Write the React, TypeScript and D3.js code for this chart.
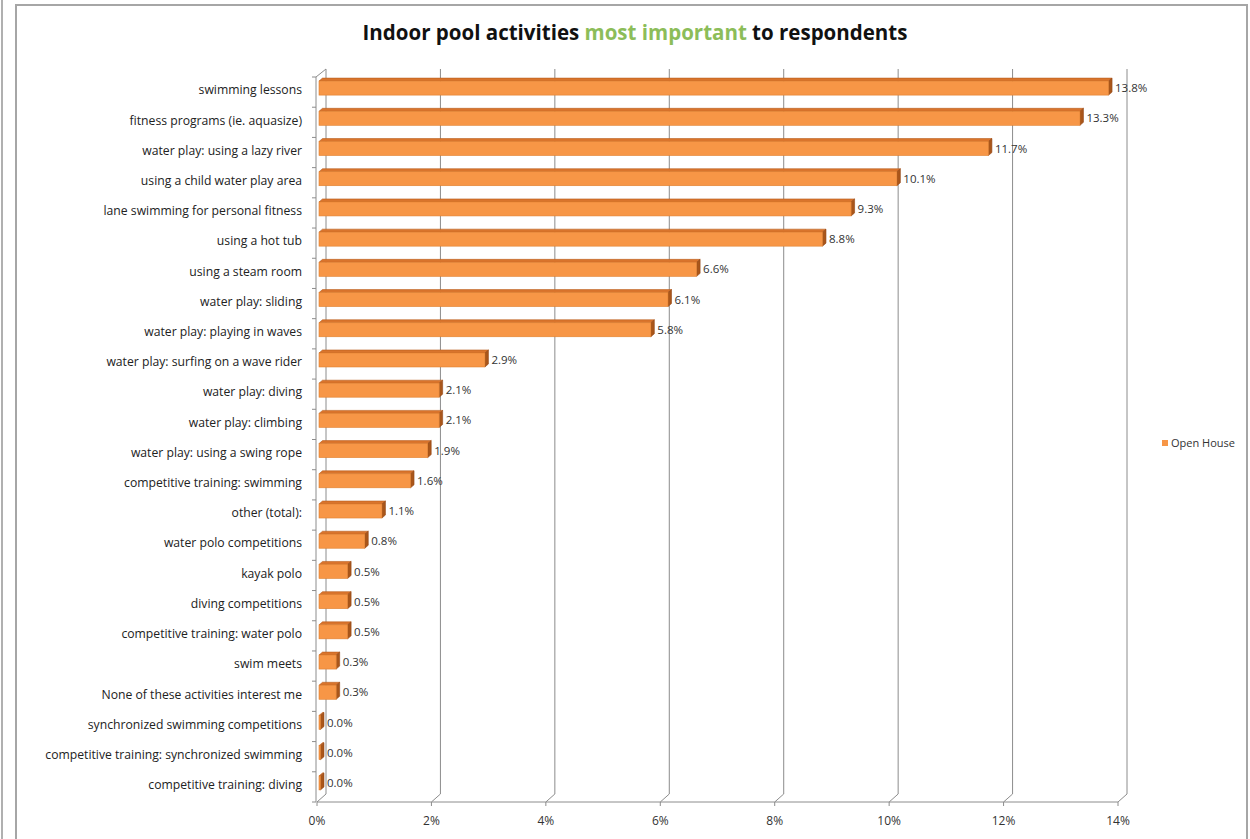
import React from "react";
import * as d3 from "d3";

const categories = [
  "swimming lessons",
  "fitness programs (ie. aquasize)",
  "water play: using a lazy river",
  "using a child water play area",
  "lane swimming for personal fitness",
  "using a hot tub",
  "using a steam room",
  "water play: sliding",
  "water play: playing in waves",
  "water play: surfing on a wave rider",
  "water play: diving",
  "water play: climbing",
  "water play: using a swing rope",
  "competitive training: swimming",
  "other (total):",
  "water polo competitions",
  "kayak polo",
  "diving competitions",
  "competitive training: water polo",
  "swim meets",
  "None of these activities interest me",
  "synchronized swimming competitions",
  "competitive training: synchronized swimming",
  "competitive training: diving",
];

const values = [
  13.8, 13.3, 11.7, 10.1, 9.3, 8.8, 6.6, 6.1, 5.8, 2.9, 2.1, 2.1, 1.9, 1.6, 1.1,
  0.8, 0.5, 0.5, 0.5, 0.3, 0.3, 0.0, 0.0, 0.0,
];

const xTicks = [0, 2, 4, 6, 8, 10, 12, 14];
const seriesName = "Open House";

export default function App() {
  const W = 1250;
  const H = 839;
  const font = "'Open Sans', 'Liberation Sans', Arial, sans-serif";
  const x = d3.scaleLinear().domain([0, 14]).range([317, 1118]);
  const y = d3.scaleBand<string>().domain(categories).range([77, 802]);
  const dx = 9;
  const dy = -8;
  const floorY = 802;
  const topY = 77;
  const grid = "#8c8c8c";

  return (
    <svg
      width={W}
      height={H}
      style={{ position: "absolute", left: 0, top: 0, background: "#fff" }}
    >
      {/* outer frames */}
      <line x1={2} y1={0} x2={2} y2={H} stroke="#b0b0b0" strokeWidth={2} />
      <rect x={16} y={5} width={1231} height={H} fill="#fff" stroke="#a6a6a6" strokeWidth={2} />

      {/* title */}
      <text
        x={635}
        y={40}
        textAnchor="middle"
        fontFamily={font}
        fontWeight="bold"
        fontSize={20.5}
        fill="#111"
      >
        Indoor pool activities{" "}
        <tspan fill="#8cbd59">most important</tspan> to respondents
      </text>

      {/* back wall gridlines + floor */}
      {xTicks.map((t) => {
        const fx = x(t);
        return (
          <g key={t}>
            <polyline
              points={`${fx + dx},${topY + dy} ${fx + dx},${floorY + dy} ${fx},${floorY}`}
              fill="none"
              stroke={grid}
              strokeWidth={1}
            />
            <line x1={fx} y1={floorY} x2={fx} y2={floorY + 4} stroke={grid} />
            <text
              x={fx}
              y={825}
              textAnchor="middle"
              fontFamily={font}
              fontSize={12}
              fill="#333"
            >
              {t}%
            </text>
          </g>
        );
      })}
      {/* floor front edge */}
      <line x1={x(0)} y1={floorY} x2={x(14)} y2={floorY} stroke={grid} />
      {/* left wall front edge */}
      <polyline
        points={`${x(0) + dx},${topY + dy} ${x(0) - 1},${topY} ${x(0) - 1},${floorY}`}
        fill="none"
        stroke={grid}
      />
      {/* left ticks */}
      {categories.map((c, i) => (
        <line
          key={"tk" + i}
          x1={x(0) - 5}
          x2={x(0) - 1}
          y1={y(c) as number}
          y2={y(c) as number}
          stroke={grid}
        />
      ))}
      <line x1={x(0) - 5} x2={x(0) - 1} y1={floorY} y2={floorY} stroke={grid} />

      {/* bars */}
      {categories.map((c, i) => {
        const v = values[i];
        const cy = (y(c) as number) + y.bandwidth() / 2;
        const x0 = x(0) + 2;
        const x1 = Math.max(x(v) + 2, x0 + 1.5);
        const top = cy - 11;
        const h = 14;
        const ox = 3.5;
        const oy = -3;
        return (
          <g key={c}>
            <polygon
              points={`${x0},${top} ${x0 + ox},${top + oy} ${x1 + ox},${top + oy} ${x1},${top}`}
              fill="#d9742c"
              stroke="#b85e1e"
              strokeWidth={0.6}
            />
            <polygon
              points={`${x1},${top} ${x1 + ox},${top + oy} ${x1 + ox},${top + oy + h} ${x1},${top + h}`}
              fill="#a9561a"
              stroke="#94481a"
              strokeWidth={0.6}
            />
            <rect
              x={x0}
              y={top}
              width={x1 - x0}
              height={h}
              fill="#f79646"
              stroke="#e0802f"
              strokeWidth={0.6}
            />
            <text
              x={x1 + ox + 3}
              y={cy - 3}
              dominantBaseline="middle"
              fontFamily={font}
              fontSize={11.5}
              fill="#333"
            >
              {v.toFixed(1)}%
            </text>
            <text
              x={302}
              y={cy - 1}
              textAnchor="end"
              dominantBaseline="middle"
              fontFamily={font}
              fontSize={12.2}
              fill="#222"
            >
              {c}
            </text>
          </g>
        );
      })}

      {/* legend */}
      <rect x={1162} y={440} width={6} height={6} fill="#f79646" />
      <text
        x={1171}
        y={444}
        dominantBaseline="middle"
        fontFamily={font}
        fontSize={11}
        fill="#333"
      >
        {seriesName}
      </text>
    </svg>
  );
}
